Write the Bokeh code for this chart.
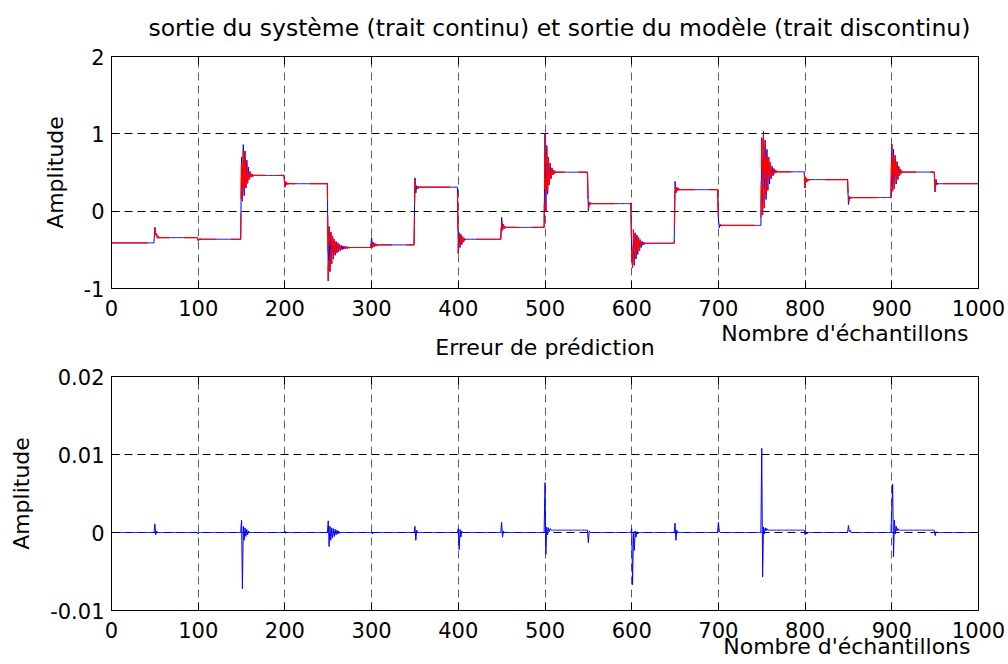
import numpy as np
from bokeh.plotting import figure
from bokeh.layouts import column
from bokeh.models import (FixedTicker, LinearAxis, Range1d, Title,
                          CustomLabelingPolicy)
from bokeh.embed import file_html
from bokeh.resources import INLINE

# ---------------------------------------------------------------------------
# Data: 20 set-point segments of 50 samples each.
# For every segment: the settled output level and the first samples of the
# transient that follows the set-point change.
# ---------------------------------------------------------------------------
SEG_LEN = 50
N_SAMPLES = 1000

system_levels = [-0.41, -0.342, -0.363, 0.462, 0.355, -0.47, -0.436, 0.31, -0.363, -0.21,
                 0.504, 0.098, -0.415, 0.278, -0.184, 0.509, 0.408, 0.176, 0.506, 0.355]

system_transients = [
    [],
    [-0.21, -0.31, -0.29, -0.35, -0.33, -0.345],
    [-0.38, -0.37, -0.355, -0.365],
    [0.70, 0.13, 0.86, 0.20, 0.78, 0.30, 0.66, 0.36, 0.57, 0.41, 0.51, 0.44, 0.48, 0.45, 0.465],
    [0.31, 0.38, 0.34, 0.365, 0.35, 0.36],
    [-0.90, -0.20, -0.78, -0.27, -0.68, -0.32, -0.62, -0.36, -0.57, -0.39, -0.54, -0.41, -0.52,
     -0.43, -0.51, -0.44, -0.50, -0.45, -0.49, -0.455, -0.485, -0.46, -0.48, -0.465, -0.475],
    [-0.34, -0.47, -0.40, -0.46, -0.42, -0.45, -0.43, -0.44],
    [0.43, 0.235, 0.33, 0.29, 0.32, 0.30, 0.315],
    [-0.55, -0.28, -0.47, -0.30, -0.43, -0.33, -0.40, -0.35, -0.375, -0.36],
    [-0.08, -0.25, -0.17, -0.225, -0.20, -0.215],
    [1.01, 0.0, 0.85, 0.22, 0.70, 0.34, 0.62, 0.42, 0.56, 0.47, 0.53, 0.49, 0.51],
    [0.0, 0.12, 0.085, 0.105, 0.095],
    [-0.55, -0.73, -0.24, -0.70, -0.28, -0.62, -0.31, -0.56, -0.34, -0.51, -0.37, -0.47, -0.39,
     -0.44, -0.405, -0.425],
    [0.386, 0.236, 0.31, 0.266, 0.295, 0.275],
    [-0.09, -0.215, -0.17, -0.19],
    [0.95, -0.05, 1.03, 0.04, 0.92, 0.15, 0.80, 0.27, 0.70, 0.35, 0.63, 0.42, 0.58, 0.46, 0.55,
     0.49, 0.53, 0.50, 0.515],
    [0.30, 0.43, 0.38, 0.415, 0.40],
    [0.086, 0.19, 0.16, 0.18, 0.172],
    [0.87, 0.26, 0.80, 0.29, 0.72, 0.35, 0.64, 0.41, 0.58, 0.46, 0.54, 0.49, 0.52, 0.50],
    [0.25, 0.41, 0.34, 0.365, 0.35],
]

# prediction error (system output minus model output)
error_levels = [0, 0, 0, 0, 0, 0, 0, 0, 0, 0,
                0.0003, 0, 0, 0, 0, 0.0003, 0, 0, 0.0003, 0]

error_transients = [
    [],
    [0.0011, -0.0003, 0.0002],
    [-0.0002],
    [0.0016, -0.0072, 0.0008, -0.0010, 0.0006, -0.0005, 0.0004, -0.0003, 0.0002],
    [0.0002, -0.0001],
    [0.0015, -0.0018, 0.0008, -0.0010, 0.0006, -0.0007, 0.0005, -0.0005, 0.0004, -0.0003,
     0.0003, -0.0002, 0.0002, -0.0001],
    [0.0001, -0.0002],
    [0.0008, -0.0010, 0.0003],
    [0.0005, -0.0022, 0.0004, -0.0006, 0.0002],
    [0.0013, -0.0006, 0.0002],
    [0.0064, -0.0028, 0.0007, -0.0003, 0.0006, 0.0001, 0.0005],
    [-0.0013, 0.0002],
    [0.0005, -0.0067, -0.0001, -0.0023, 0.0002, -0.0006, 0.0001, -0.0002],
    [0.0012, -0.0010, 0.0003],
    [0.0013, 0.0002],
    [0.0108, -0.0057, 0.0007, -0.0002, 0.0006, 0.0002, 0.0005],
    [-0.0003, 0.0001, -0.0002],
    [0.0009, 0.0001, 0.0003],
    [0.0030, 0.0062, -0.0031, 0.0016, -0.0002, 0.0008, 0.0002, 0.0005],
    [-0.0004, 0.0001],
]

x_ticks = [0, 100, 200, 300, 400, 500, 600, 700, 800, 900, 1000]
x_tick_labels = ["0", "100", "200", "300", "400", "500", "600", "700", "800", "900", "1000"]
top_y_ticks = [-1, 0, 1, 2]
top_y_tick_labels = ["-1", "0", "1", "2"]
bottom_y_ticks = [-0.01, 0, 0.01, 0.02]
bottom_y_tick_labels = ["-0.01", "0", "0.01", "0.02"]

title_text = "sortie du système (trait continu) et sortie du modèle (trait discontinu)"
error_title_text = "Erreur de prédiction"
x_label_text = "Nombre d'échantillons"
y_label_text = "Amplitude"


def assemble(levels, transients):
    """Concatenate each segment: its transient samples, then its settled level."""
    out = []
    for lvl, tr in zip(levels, transients):
        out.extend(list(tr) + [lvl] * (SEG_LEN - len(tr)))
    return np.array(out)


samples = np.arange(N_SAMPLES)
system_out = assemble(system_levels, system_transients)
pred_error = assemble(error_levels, error_transients)
model_out = system_out - pred_error

FONT = "DejaVu Sans"
TICK_SIZE = "21px"
LABEL_SIZE = "22px"

# hides every tick label of the box's top/right tick axes
NO_LABELS = """
for (const i of indices) { indices.unset(i) }
return indices
"""


def styled_title(text, size, align, standoff, offset=0, valign="bottom"):
    return Title(text=text, align=align, standoff=standoff, offset=offset,
                 vertical_align=valign,
                 text_font=FONT, text_font_size=size, text_font_style="normal",
                 text_color="black")


def make_panel(height, border_top, border_bottom, y_lim, y_ticks, y_labels, ylab_standoff):
    p = figure(width=1008, height=height, output_backend="svg", toolbar_location=None,
               x_range=Range1d(0, 1000), y_range=Range1d(*y_lim),
               min_border_left=111, min_border_right=30,
               min_border_top=border_top, min_border_bottom=border_bottom,
               background_fill_color="white", border_fill_color="white")
    p.outline_line_color = "black"
    p.outline_line_width = 1
    p.outline_line_alpha = 1

    xt = FixedTicker(ticks=x_ticks)
    yt = FixedTicker(ticks=y_ticks)

    xa = p.xaxis[0]
    xa.ticker = xt
    xa.major_label_overrides = dict(zip(x_ticks, x_tick_labels))
    ya = p.yaxis[0]
    ya.ticker = yt
    ya.major_label_overrides = dict(zip(y_ticks, y_labels))
    ya.axis_label = y_label_text
    ya.axis_label_standoff = ylab_standoff
    ya.axis_label_text_font = FONT
    ya.axis_label_text_font_size = LABEL_SIZE
    ya.axis_label_text_font_style = "normal"
    ya.axis_label_text_color = "black"

    for ax in (xa, ya):
        ax.major_label_text_font = FONT
        ax.major_label_text_font_size = TICK_SIZE
        ax.major_label_text_color = "black"
        ax.major_label_standoff = 7
        ax.major_tick_in = 8
        ax.major_tick_out = 0
        ax.minor_tick_line_color = None
        ax.major_tick_line_color = "black"
        ax.axis_line_color = "black"
    xa.major_label_standoff = 11

    # inward tick marks along the top and right edges of the box
    for side, ticker, loc in (("above", xt, y_lim[1]), ("right", yt, 1000)):
        ax = LinearAxis(ticker=ticker, fixed_location=loc,
                        major_label_policy=CustomLabelingPolicy(code=NO_LABELS))
        ax.major_tick_in = 8
        ax.major_tick_out = 0
        ax.minor_tick_line_color = None
        ax.major_tick_line_color = "black"
        ax.axis_line_color = "black"
        p.add_layout(ax, side)

    p.xgrid.ticker = xt
    p.ygrid.ticker = yt
    p.xgrid.grid_line_color = "#606060"
    p.ygrid.grid_line_color = "black"
    for g in (p.xgrid, p.ygrid):
        g.grid_line_dash = "8 5"
        g.grid_line_width = 1
        g.grid_line_alpha = 1
    return p


# upper panel: system and model outputs; the lower panel's heading sits
# under it, overlapping the x-axis label band as in the original layout
p1 = make_panel(364, 54, 76, (-1, 2), top_y_ticks, top_y_tick_labels, 13)
p1.title = styled_title(title_text, "23.5px", "left", 26, 37, "top")
p1.line(samples, system_out, line_color="blue", line_width=1)
p1.line(samples, model_out, line_color="red", line_width=1.2, line_dash="36 14")
p1.add_layout(styled_title(x_label_text, LABEL_SIZE, "right", 1, 10), "below")
p1.add_layout(styled_title(error_title_text, LABEL_SIZE, "center", -27), "below")

# lower panel: prediction error
p2 = make_panel(300, 12, 54, (-0.01, 0.02), bottom_y_ticks, bottom_y_tick_labels, 13)
p2.line(samples, pred_error, line_color="blue", line_width=1)
p2.add_layout(styled_title(x_label_text, LABEL_SIZE, "right", -17, 8), "below")

layout = column(p1, p2, spacing=0)
open("out.html", "w").write(file_html(layout, INLINE))
